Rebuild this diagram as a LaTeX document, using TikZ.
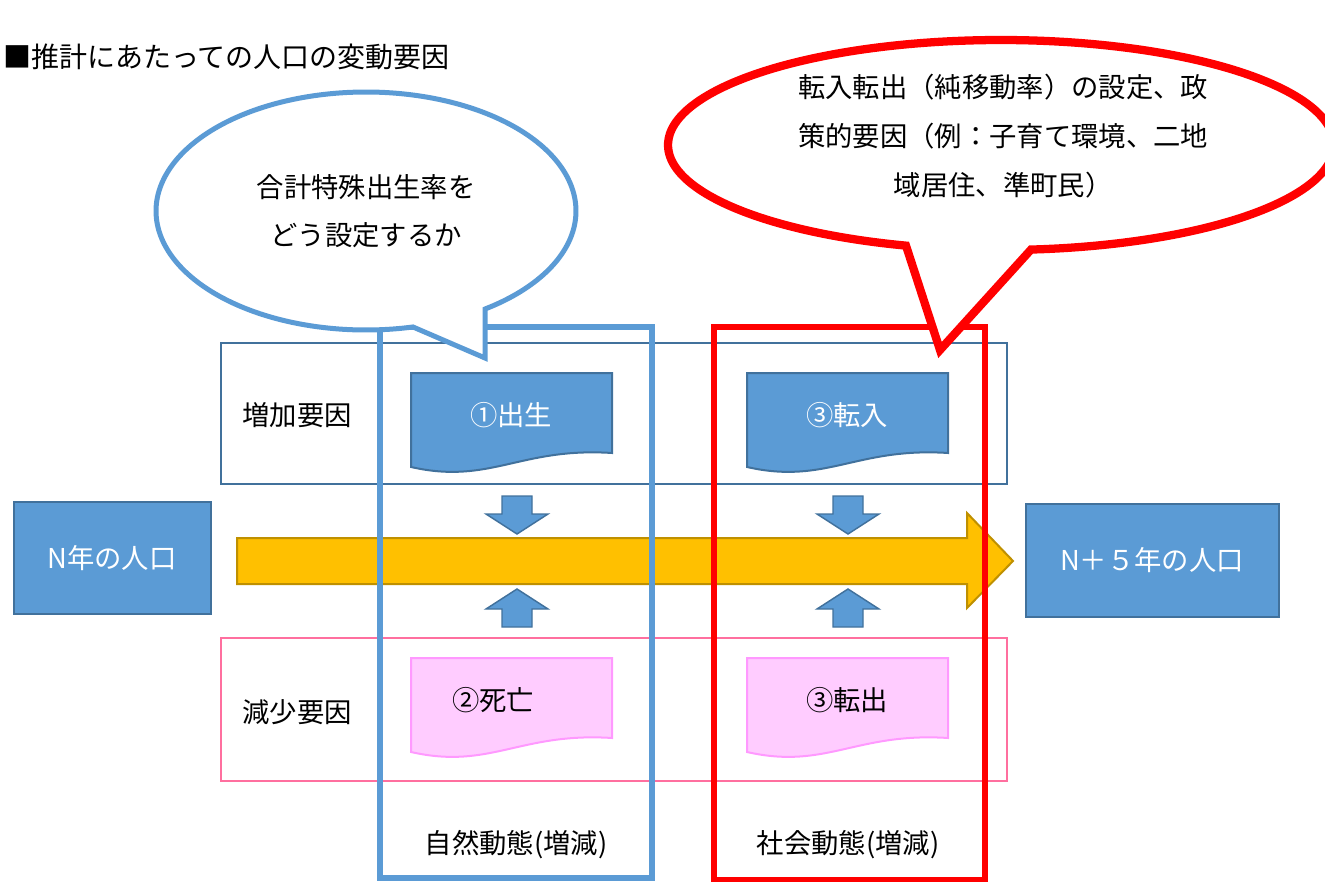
\documentclass[tikz,border=0pt]{standalone}
\usepackage{fontspec}
\setmainfont{Noto Sans CJK JP}
\definecolor{myblue}{HTML}{5B9BD5}
\definecolor{myblueedge}{HTML}{41719C}
\definecolor{myred}{HTML}{FF0000}
\definecolor{pinkedge}{HTML}{FF6F9F}
\definecolor{docpink}{HTML}{FFCCFF}
\definecolor{docpinkedge}{HTML}{FF99FF}
\definecolor{arrowyellow}{HTML}{FFC000}
\definecolor{arrowyellowedge}{HTML}{BF9000}
\begin{document}
\begin{tikzpicture}[x=0.75pt,y=-0.75pt,
  txt/.style={font=\fontsize{20.5}{36.5}\selectfont, inner sep=0pt, align=center},
  wtxt/.style={txt, text=white},
  factorbox/.style={line width=1.5pt},
  bluedoc/.style={fill=myblue, draw=myblueedge, line width=1.5pt},
  pinkdoc/.style={fill=docpink, draw=docpinkedge, line width=1.5pt},
  popbox/.style={fill=myblue, draw=myblueedge, line width=1.5pt},
  smallarrow/.style={fill=myblue, draw=myblueedge, line width=1.1pt, line join=miter},
  bigarrow/.style={fill=arrowyellow, draw=arrowyellowedge, line width=1.5pt, line join=miter},
  columnbox/.style={line width=5pt},
  bubble/.style={fill=white, line join=miter}
]
\useasboundingbox (0,0) rectangle (1325,882);
\clip (0,0) rectangle (1325,882);

% factor rows
\draw[factorbox, draw=myblueedge] (221,343) rectangle (1007,484);
\draw[factorbox, draw=pinkedge] (221,638) rectangle (1007,781);

% document shapes
\begin{scope}[shift={(411,373)}]
  \draw[bluedoc] (0,0) -- (201,0) -- (201,80) .. controls (109,74) and (79,112) .. (0,94) -- cycle;
\end{scope}
\begin{scope}[shift={(747,373)}]
  \draw[bluedoc] (0,0) -- (201,0) -- (201,80) .. controls (109,74) and (79,112) .. (0,94) -- cycle;
\end{scope}
\begin{scope}[shift={(411,658)}]
  \draw[pinkdoc] (0,0) -- (201,0) -- (201,80) .. controls (109,74) and (79,112) .. (0,94) -- cycle;
\end{scope}
\begin{scope}[shift={(747,658)}]
  \draw[pinkdoc] (0,0) -- (201,0) -- (201,80) .. controls (109,74) and (79,112) .. (0,94) -- cycle;
\end{scope}

% small arrows
\foreach \dx in {0,331}{
  \begin{scope}[shift={(\dx,0)}]
    \draw[smallarrow] (502,496) -- (532,496) -- (532,514) -- (548,514) -- (517,534) -- (486,514) -- (502,514) -- cycle;
    \draw[smallarrow] (517,589) -- (548,609) -- (532,609) -- (532,627) -- (502,627) -- (502,609) -- (486,609) -- cycle;
  \end{scope}
}

% population boxes
\draw[popbox] (14,502) rectangle (211,614);
\draw[popbox] (1026,504) rectangle (1279,617);

% big arrow
\draw[bigarrow] (237,538) -- (967,538) -- (967,513) -- (1013,561) -- (967,608) -- (967,584) -- (237,584) -- cycle;

% column boxes
\draw[columnbox, draw=myblue] (380,327) rectangle (652,878);
\draw[columnbox, draw=myred] (714,327) rectangle (985,880);

% bubbles
\draw[bubble, draw=myblue, line width=3.75pt]
  plot[domain=77.07:415.48, samples=120, smooth] ({366+210*cos(\x)},{211+119*sin(\x)})
  -- (485,358) -- cycle;
\draw[bubble, draw=myred, line width=6.2pt]
  plot[domain=106.58:444.83, samples=150, smooth] ({1001+333*cos(\x)},{145+105*sin(\x)})
  -- (940,350) -- cycle;

% texts
\node[txt, font=\fontsize{21}{36.5}\selectfont, anchor=west] (title) at (3,57) {■推計にあたっての人口の変動要因};
\node[txt] (bluetext) at (366,211) {合計特殊出生率を\\どう設定するか};
\node[txt] (redtext) at (1003,136) {転入転出（純移動率）の設定、政\\策的要因（例：子育て環境、二地\\域居住、準町民）};
\node[txt] (inc) at (297,415) {増加要因};
\node[txt] (dec) at (297,712) {減少要因};
\node[wtxt] (birth) at (511,415) {①出生};
\node[wtxt] (movein) at (847,415) {③転入};
\node[txt] (death) at (493,700) {②死亡};
\node[txt] (moveout) at (847,700) {③転出};
\node[wtxt] (popN) at (112,558) {N年の人口};
\node[wtxt] (popN5) at (1152,560) {N＋５年の人口};
\node[txt] (natural) at (516,845) {自然動態(増減)};
\node[txt] (social) at (848,845) {社会動態(増減)};
\end{tikzpicture}
\end{document}
